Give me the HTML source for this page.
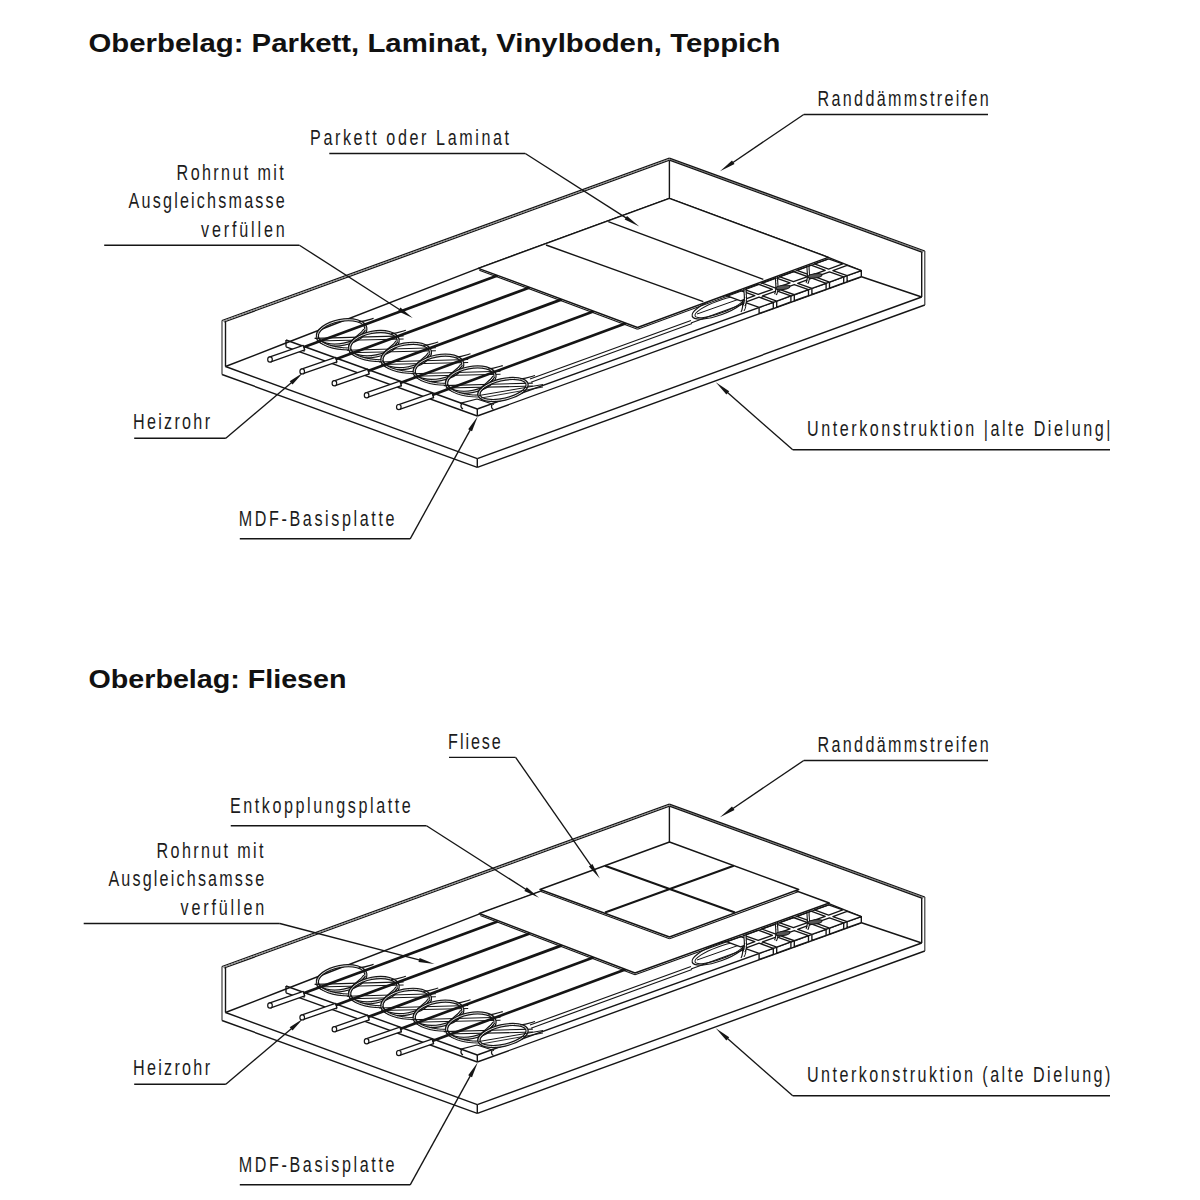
<!DOCTYPE html><html><head><meta charset="utf-8"><style>html,body{margin:0;padding:0;background:#fff;}svg{display:block;}</style></head><body><svg width="1200" height="1200" viewBox="0 0 1200 1200">
<rect width="1200" height="1200" fill="#fff"/>
<g transform="translate(0,0)">
<line x1="225.50" y1="366.50" x2="477.30" y2="458.70" stroke="#151515" stroke-width="1.4"/>
<line x1="222.00" y1="374.50" x2="477.30" y2="467.30" stroke="#151515" stroke-width="1.4"/>
<line x1="477.30" y1="458.70" x2="477.30" y2="467.30" stroke="#151515" stroke-width="1.4"/>
<line x1="477.30" y1="458.70" x2="921.70" y2="297.00" stroke="#151515" stroke-width="1.4"/>
<line x1="477.30" y1="467.30" x2="924.80" y2="305.00" stroke="#151515" stroke-width="1.4"/>
<line x1="222.00" y1="320.50" x2="222.00" y2="374.50" stroke="#333" stroke-width="1.15"/>
<line x1="225.50" y1="322.00" x2="225.50" y2="366.50" stroke="#151515" stroke-width="1.4"/>
<line x1="222.00" y1="320.50" x2="669.40" y2="158.10" stroke="#151515" stroke-width="1.3"/>
<line x1="224.20" y1="322.00" x2="669.40" y2="160.20" stroke="#151515" stroke-width="1.3"/>
<line x1="223.10" y1="321.25" x2="669.40" y2="159.15" stroke="#888" stroke-width="1.0"/>
<line x1="669.40" y1="159.15" x2="923.65" y2="251.65" stroke="#888" stroke-width="1.0"/>
<line x1="669.40" y1="160.40" x2="669.40" y2="198.40" stroke="#151515" stroke-width="1.4"/>
<line x1="669.40" y1="158.10" x2="924.80" y2="251.00" stroke="#151515" stroke-width="1.3"/>
<line x1="669.40" y1="160.20" x2="922.50" y2="252.30" stroke="#151515" stroke-width="1.3"/>
<line x1="924.80" y1="251.00" x2="924.80" y2="305.00" stroke="#333" stroke-width="1.15"/>
<line x1="921.70" y1="252.30" x2="921.70" y2="297.00" stroke="#151515" stroke-width="1.4"/>
<polyline points="225.50,366.50 286.00,343.00 478.30,268.30 669.40,198.40 828.30,257.30 861.30,270.60" stroke="#151515" stroke-width="1.4" fill="none" stroke-linejoin="round"/>
<line x1="860.80" y1="276.50" x2="921.70" y2="297.00" stroke="#151515" stroke-width="1.4"/>
<line x1="286.00" y1="340.00" x2="477.30" y2="409.00" stroke="#151515" stroke-width="1.4"/>
<line x1="286.00" y1="346.80" x2="477.30" y2="416.00" stroke="#151515" stroke-width="1.4"/>
<line x1="286.00" y1="340.00" x2="286.00" y2="346.80" stroke="#151515" stroke-width="1.4"/>
<line x1="477.30" y1="409.00" x2="477.30" y2="416.00" stroke="#151515" stroke-width="1.4"/>
<line x1="477.30" y1="409.00" x2="861.30" y2="270.60" stroke="#151515" stroke-width="1.4"/>
<line x1="477.30" y1="416.00" x2="860.80" y2="277.00" stroke="#151515" stroke-width="1.4"/>
<line x1="861.30" y1="270.60" x2="861.30" y2="277.00" stroke="#151515" stroke-width="1.4"/>
<line x1="304.00" y1="346.49" x2="304.00" y2="351.69" stroke="#151515" stroke-width="1.2"/>
<line x1="336.30" y1="358.14" x2="336.30" y2="363.34" stroke="#151515" stroke-width="1.2"/>
<line x1="368.60" y1="369.79" x2="368.60" y2="374.99" stroke="#151515" stroke-width="1.2"/>
<line x1="400.90" y1="381.44" x2="400.90" y2="386.64" stroke="#151515" stroke-width="1.2"/>
<line x1="433.20" y1="393.10" x2="433.20" y2="398.30" stroke="#151515" stroke-width="1.2"/>
<line x1="691.00" y1="323.00" x2="780.00" y2="290.50" stroke="#151515" stroke-width="1.2"/>
<polygon points="270.79,361.77 304.79,349.97 303.21,345.43 269.21,357.23" stroke="#151515" stroke-width="1.3" fill="#fff" stroke-linejoin="round"/>
<ellipse cx="270.0" cy="359.5" rx="2.3" ry="2.6" fill="#fff" stroke="#151515" stroke-width="1.2"/>
<polygon points="302.99,373.67 336.99,361.87 335.41,357.33 301.41,369.13" stroke="#151515" stroke-width="1.3" fill="#fff" stroke-linejoin="round"/>
<ellipse cx="302.2" cy="371.4" rx="2.3" ry="2.6" fill="#fff" stroke="#151515" stroke-width="1.2"/>
<polygon points="335.19,385.57 369.19,373.77 367.61,369.23 333.61,381.03" stroke="#151515" stroke-width="1.3" fill="#fff" stroke-linejoin="round"/>
<ellipse cx="334.4" cy="383.3" rx="2.3" ry="2.6" fill="#fff" stroke="#151515" stroke-width="1.2"/>
<polygon points="367.39,397.47 401.39,385.67 399.81,381.13 365.81,392.93" stroke="#151515" stroke-width="1.3" fill="#fff" stroke-linejoin="round"/>
<ellipse cx="366.6" cy="395.2" rx="2.3" ry="2.6" fill="#fff" stroke="#151515" stroke-width="1.2"/>
<polygon points="399.59,409.37 433.59,397.57 432.01,393.03 398.01,404.83" stroke="#151515" stroke-width="1.3" fill="#fff" stroke-linejoin="round"/>
<ellipse cx="398.8" cy="407.1" rx="2.3" ry="2.6" fill="#fff" stroke="#151515" stroke-width="1.2"/>
<ellipse cx="341.6" cy="332.4" rx="24.6" ry="12" transform="rotate(-11 341.6 332.4)" fill="none" stroke="#151515" stroke-width="3.3"/>
<ellipse cx="341.6" cy="332.4" rx="24.6" ry="12" transform="rotate(-11 341.6 332.4)" fill="none" stroke="#fff" stroke-width="0.8"/>
<path d="M358.6,321.9 C364.6,321.4 368.6,319.9 373.6,318.4" stroke="#151515" stroke-width="1.1" fill="none" />
<path d="M364.6,329.4 C360.6,336.4 349.6,339.4 349.3,348.9" stroke="#151515" stroke-width="3.0" fill="none" />
<path d="M364.6,329.4 C360.6,336.4 349.6,339.4 349.3,348.9" stroke="#fff" stroke-width="0.9" fill="none" />
<path d="M317.0,337.1 C319.6,344.4 333.6,348.9 349.3,348.9" stroke="#151515" stroke-width="3.0" fill="none" />
<path d="M317.0,337.1 C319.6,344.4 333.6,348.9 349.3,348.9" stroke="#fff" stroke-width="0.9" fill="none" />
<line x1="314.60" y1="338.40" x2="403.60" y2="335.90" stroke="#151515" stroke-width="1.15"/>
<line x1="316.60" y1="340.90" x2="403.60" y2="338.90" stroke="#151515" stroke-width="1.05"/>
<ellipse cx="373.9" cy="344.2" rx="24.6" ry="12" transform="rotate(-11 373.9 344.2)" fill="none" stroke="#151515" stroke-width="3.3"/>
<ellipse cx="373.9" cy="344.2" rx="24.6" ry="12" transform="rotate(-11 373.9 344.2)" fill="none" stroke="#fff" stroke-width="0.8"/>
<path d="M390.9,333.7 C396.9,333.2 400.9,331.7 405.9,330.2" stroke="#151515" stroke-width="1.1" fill="none" />
<path d="M396.9,341.2 C392.9,348.2 381.9,351.2 381.6,360.7" stroke="#151515" stroke-width="3.0" fill="none" />
<path d="M396.9,341.2 C392.9,348.2 381.9,351.2 381.6,360.7" stroke="#fff" stroke-width="0.9" fill="none" />
<path d="M349.3,348.9 C351.9,356.2 365.9,360.7 381.6,360.7" stroke="#151515" stroke-width="3.0" fill="none" />
<path d="M349.3,348.9 C351.9,356.2 365.9,360.7 381.6,360.7" stroke="#fff" stroke-width="0.9" fill="none" />
<line x1="346.90" y1="350.20" x2="435.90" y2="347.70" stroke="#151515" stroke-width="1.15"/>
<line x1="348.90" y1="352.70" x2="435.90" y2="350.70" stroke="#151515" stroke-width="1.05"/>
<ellipse cx="406.2" cy="356.0" rx="24.6" ry="12" transform="rotate(-11 406.2 356.0)" fill="none" stroke="#151515" stroke-width="3.3"/>
<ellipse cx="406.2" cy="356.0" rx="24.6" ry="12" transform="rotate(-11 406.2 356.0)" fill="none" stroke="#fff" stroke-width="0.8"/>
<path d="M423.2,345.5 C429.2,345.0 433.2,343.5 438.2,342.0" stroke="#151515" stroke-width="1.1" fill="none" />
<path d="M429.2,353.0 C425.2,360.0 414.2,363.0 413.9,372.5" stroke="#151515" stroke-width="3.0" fill="none" />
<path d="M429.2,353.0 C425.2,360.0 414.2,363.0 413.9,372.5" stroke="#fff" stroke-width="0.9" fill="none" />
<path d="M381.6,360.7 C384.2,368.0 398.2,372.5 413.9,372.5" stroke="#151515" stroke-width="3.0" fill="none" />
<path d="M381.6,360.7 C384.2,368.0 398.2,372.5 413.9,372.5" stroke="#fff" stroke-width="0.9" fill="none" />
<line x1="379.20" y1="362.00" x2="468.20" y2="359.50" stroke="#151515" stroke-width="1.15"/>
<line x1="381.20" y1="364.50" x2="468.20" y2="362.50" stroke="#151515" stroke-width="1.05"/>
<ellipse cx="438.5" cy="367.8" rx="24.6" ry="12" transform="rotate(-11 438.5 367.8)" fill="none" stroke="#151515" stroke-width="3.3"/>
<ellipse cx="438.5" cy="367.8" rx="24.6" ry="12" transform="rotate(-11 438.5 367.8)" fill="none" stroke="#fff" stroke-width="0.8"/>
<path d="M455.5,357.3 C461.5,356.8 465.5,355.3 470.5,353.8" stroke="#151515" stroke-width="1.1" fill="none" />
<path d="M461.5,364.8 C457.5,371.8 446.5,374.8 446.2,384.3" stroke="#151515" stroke-width="3.0" fill="none" />
<path d="M461.5,364.8 C457.5,371.8 446.5,374.8 446.2,384.3" stroke="#fff" stroke-width="0.9" fill="none" />
<path d="M413.9,372.5 C416.5,379.8 430.5,384.3 446.2,384.3" stroke="#151515" stroke-width="3.0" fill="none" />
<path d="M413.9,372.5 C416.5,379.8 430.5,384.3 446.2,384.3" stroke="#fff" stroke-width="0.9" fill="none" />
<line x1="411.50" y1="373.80" x2="500.50" y2="371.30" stroke="#151515" stroke-width="1.15"/>
<line x1="413.50" y1="376.30" x2="500.50" y2="374.30" stroke="#151515" stroke-width="1.05"/>
<ellipse cx="470.8" cy="379.6" rx="24.6" ry="12" transform="rotate(-11 470.8 379.6)" fill="none" stroke="#151515" stroke-width="3.3"/>
<ellipse cx="470.8" cy="379.6" rx="24.6" ry="12" transform="rotate(-11 470.8 379.6)" fill="none" stroke="#fff" stroke-width="0.8"/>
<path d="M487.8,369.1 C493.8,368.6 497.8,367.1 502.8,365.6" stroke="#151515" stroke-width="1.1" fill="none" />
<path d="M493.8,376.6 C489.8,383.6 478.8,386.6 478.5,396.1" stroke="#151515" stroke-width="3.0" fill="none" />
<path d="M493.8,376.6 C489.8,383.6 478.8,386.6 478.5,396.1" stroke="#fff" stroke-width="0.9" fill="none" />
<path d="M446.2,384.3 C448.8,391.6 462.8,396.1 478.5,396.1" stroke="#151515" stroke-width="3.0" fill="none" />
<path d="M446.2,384.3 C448.8,391.6 462.8,396.1 478.5,396.1" stroke="#fff" stroke-width="0.9" fill="none" />
<line x1="443.80" y1="385.60" x2="532.80" y2="383.10" stroke="#151515" stroke-width="1.15"/>
<line x1="445.80" y1="388.10" x2="532.80" y2="386.10" stroke="#151515" stroke-width="1.05"/>
<ellipse cx="503.0" cy="389.5" rx="24.6" ry="9.8" transform="rotate(-13 503.0 389.5)" fill="none" stroke="#151515" stroke-width="3.3"/>
<ellipse cx="503.0" cy="389.5" rx="24.6" ry="9.8" transform="rotate(-13 503.0 389.5)" fill="none" stroke="#fff" stroke-width="0.8"/>
<path d="M520.0,379.0 C526.0,378.5 530.0,377.0 535.0,375.5" stroke="#151515" stroke-width="1.1" fill="none" />
<line x1="479.00" y1="395.50" x2="543.00" y2="384.50" stroke="#151515" stroke-width="1.0"/>
<line x1="481.00" y1="398.00" x2="543.00" y2="387.00" stroke="#151515" stroke-width="0.9"/>
<polyline points="460.00,403.30 477.00,399.00 494.00,404.50" stroke="#151515" stroke-width="1.2" fill="none" stroke-linejoin="round"/>
<path d="M461.5,403.8 C460.5,406 461,408 463,409" stroke="#151515" stroke-width="1.3" fill="none" />
<path d="M492,404.6 C491,406.5 491.5,408.5 493.5,409.5" stroke="#151515" stroke-width="1.3" fill="none" />
<line x1="303.50" y1="347.30" x2="497.61" y2="275.48" stroke="#151515" stroke-width="2.7"/>
<line x1="335.70" y1="359.20" x2="529.71" y2="287.42" stroke="#151515" stroke-width="2.7"/>
<line x1="367.90" y1="371.10" x2="561.80" y2="299.36" stroke="#151515" stroke-width="2.7"/>
<line x1="400.10" y1="383.00" x2="593.90" y2="311.29" stroke="#151515" stroke-width="2.7"/>
<line x1="432.30" y1="394.90" x2="626.00" y2="323.23" stroke="#151515" stroke-width="2.7"/>
<line x1="530.00" y1="379.00" x2="691.00" y2="320.50" stroke="#151515" stroke-width="1.15"/>
<line x1="531.00" y1="382.20" x2="692.00" y2="323.50" stroke="#151515" stroke-width="1.15"/>
<ellipse cx="719" cy="306.5" rx="28.5" ry="8.5" transform="rotate(-20 719 306.5)" fill="none" stroke="#151515" stroke-width="1.2"/>
<ellipse cx="719.5" cy="307" rx="26" ry="6.2" transform="rotate(-20 719.5 307)" fill="none" stroke="#151515" stroke-width="1"/>
<line x1="697.00" y1="314.00" x2="745.00" y2="297.00" stroke="#151515" stroke-width="1.0"/>
<path d="M743,292 C741,298 745,305 741,312" stroke="#151515" stroke-width="1.2" fill="none" />
<path d="M746,291 C744,298 748,305 744,311" stroke="#151515" stroke-width="1.0" fill="none" />
<polygon points="842.80,263.93 828.60,269.05 814.40,263.93 828.60,258.81" stroke="#151515" stroke-width="1.35" fill="#fff" stroke-linejoin="round"/>
<polygon points="825.20,270.28 811.00,275.39 796.80,270.28 811.00,265.16" stroke="#151515" stroke-width="1.35" fill="#fff" stroke-linejoin="round"/>
<polygon points="807.60,276.62 793.40,281.74 779.20,276.62 793.40,271.50" stroke="#151515" stroke-width="1.35" fill="#fff" stroke-linejoin="round"/>
<polygon points="790.00,282.96 775.80,288.08 761.60,282.96 775.80,277.84" stroke="#151515" stroke-width="1.35" fill="#fff" stroke-linejoin="round"/>
<polygon points="772.40,289.30 758.20,294.42 744.00,289.30 758.20,284.19" stroke="#151515" stroke-width="1.35" fill="#fff" stroke-linejoin="round"/>
<polygon points="754.80,295.65 740.60,300.77 726.40,295.65 740.60,290.53" stroke="#151515" stroke-width="1.35" fill="#fff" stroke-linejoin="round"/>
<polygon points="861.30,270.60 847.10,275.72 847.10,281.72 861.30,276.60" stroke="#151515" stroke-width="1.35" fill="#fff" stroke-linejoin="round"/>
<polygon points="861.30,270.60 847.10,275.72 832.90,270.60 847.10,265.48" stroke="#151515" stroke-width="1.35" fill="#fff" stroke-linejoin="round"/>
<polygon points="843.70,276.94 829.50,282.06 829.50,288.06 843.70,282.94" stroke="#151515" stroke-width="1.35" fill="#fff" stroke-linejoin="round"/>
<polygon points="843.70,276.94 829.50,282.06 815.30,276.94 829.50,271.83" stroke="#151515" stroke-width="1.35" fill="#fff" stroke-linejoin="round"/>
<polygon points="826.10,283.29 811.90,288.40 811.90,294.40 826.10,289.29" stroke="#151515" stroke-width="1.35" fill="#fff" stroke-linejoin="round"/>
<polygon points="826.10,283.29 811.90,288.40 797.70,283.29 811.90,278.17" stroke="#151515" stroke-width="1.35" fill="#fff" stroke-linejoin="round"/>
<polygon points="808.50,289.63 794.30,294.75 794.30,300.75 808.50,295.63" stroke="#151515" stroke-width="1.35" fill="#fff" stroke-linejoin="round"/>
<polygon points="808.50,289.63 794.30,294.75 780.10,289.63 794.30,284.51" stroke="#151515" stroke-width="1.35" fill="#fff" stroke-linejoin="round"/>
<polygon points="790.90,295.97 776.70,301.09 776.70,307.09 790.90,301.97" stroke="#151515" stroke-width="1.35" fill="#fff" stroke-linejoin="round"/>
<polygon points="790.90,295.97 776.70,301.09 762.50,295.97 776.70,290.85" stroke="#151515" stroke-width="1.35" fill="#fff" stroke-linejoin="round"/>
<polygon points="773.30,302.32 759.10,307.43 759.10,313.43 773.30,308.32" stroke="#151515" stroke-width="1.35" fill="#fff" stroke-linejoin="round"/>
<polygon points="773.30,302.32 759.10,307.43 744.90,302.32 759.10,297.20" stroke="#151515" stroke-width="1.35" fill="#fff" stroke-linejoin="round"/>
<path d="M745.5,282.9 C743.5,290.9 747.5,298.9 744.0,305.9" stroke="#151515" stroke-width="3.2" fill="none" />
<path d="M745.5,282.9 C743.5,290.9 747.5,298.9 744.0,305.9" stroke="#fff" stroke-width="1.0" fill="none" />
<path d="M777.0,271.6 C775.0,279.6 779.0,287.6 775.5,294.6" stroke="#151515" stroke-width="3.2" fill="none" />
<path d="M777.0,271.6 C775.0,279.6 779.0,287.6 775.5,294.6" stroke="#fff" stroke-width="1.0" fill="none" />
<path d="M808.5,260.2 C806.5,268.2 810.5,276.2 807.0,283.2" stroke="#151515" stroke-width="3.2" fill="none" />
<path d="M808.5,260.2 C806.5,268.2 810.5,276.2 807.0,283.2" stroke="#fff" stroke-width="1.0" fill="none" />
<ellipse cx="783.0" cy="287.4" rx="7" ry="2.2" transform="rotate(-8 783.0 287.4)" fill="#555" stroke="#151515" stroke-width="1.1"/>
<ellipse cx="815.0" cy="275.9" rx="7" ry="2.2" transform="rotate(-8 815.0 275.9)" fill="#555" stroke="#151515" stroke-width="1.1"/>
<polygon points="478.30,268.30 637.50,327.50 828.30,257.30 669.40,198.40" stroke="#151515" stroke-width="1.4" fill="#fff" stroke-linejoin="round"/>
<line x1="479.30" y1="270.20" x2="637.50" y2="329.30" stroke="#151515" stroke-width="1.1"/>
<line x1="637.50" y1="329.30" x2="828.30" y2="259.10" stroke="#151515" stroke-width="1.1"/>
<line x1="546.00" y1="245.00" x2="703.30" y2="301.70" stroke="#151515" stroke-width="1.4"/>
<line x1="608.30" y1="221.70" x2="763.30" y2="279.30" stroke="#151515" stroke-width="1.4"/>
</g>
<g transform="translate(0,646)">
<line x1="225.50" y1="366.50" x2="477.30" y2="458.70" stroke="#151515" stroke-width="1.4"/>
<line x1="222.00" y1="374.50" x2="477.30" y2="467.30" stroke="#151515" stroke-width="1.4"/>
<line x1="477.30" y1="458.70" x2="477.30" y2="467.30" stroke="#151515" stroke-width="1.4"/>
<line x1="477.30" y1="458.70" x2="921.70" y2="297.00" stroke="#151515" stroke-width="1.4"/>
<line x1="477.30" y1="467.30" x2="924.80" y2="305.00" stroke="#151515" stroke-width="1.4"/>
<line x1="222.00" y1="320.50" x2="222.00" y2="374.50" stroke="#333" stroke-width="1.15"/>
<line x1="225.50" y1="322.00" x2="225.50" y2="366.50" stroke="#151515" stroke-width="1.4"/>
<line x1="222.00" y1="320.50" x2="669.40" y2="158.10" stroke="#151515" stroke-width="1.3"/>
<line x1="224.20" y1="322.00" x2="669.40" y2="160.20" stroke="#151515" stroke-width="1.3"/>
<line x1="223.10" y1="321.25" x2="669.40" y2="159.15" stroke="#888" stroke-width="1.0"/>
<line x1="669.40" y1="159.15" x2="923.65" y2="251.65" stroke="#888" stroke-width="1.0"/>
<line x1="669.40" y1="160.40" x2="669.40" y2="198.40" stroke="#151515" stroke-width="1.4"/>
<line x1="669.40" y1="158.10" x2="924.80" y2="251.00" stroke="#151515" stroke-width="1.3"/>
<line x1="669.40" y1="160.20" x2="922.50" y2="252.30" stroke="#151515" stroke-width="1.3"/>
<line x1="924.80" y1="251.00" x2="924.80" y2="305.00" stroke="#333" stroke-width="1.15"/>
<line x1="921.70" y1="252.30" x2="921.70" y2="297.00" stroke="#151515" stroke-width="1.4"/>
<polyline points="225.50,366.50 286.00,343.00 478.30,268.30 669.40,198.40 828.30,257.30 861.30,270.60" stroke="#151515" stroke-width="1.4" fill="none" stroke-linejoin="round"/>
<line x1="860.80" y1="276.50" x2="921.70" y2="297.00" stroke="#151515" stroke-width="1.4"/>
<line x1="286.00" y1="340.00" x2="477.30" y2="409.00" stroke="#151515" stroke-width="1.4"/>
<line x1="286.00" y1="346.80" x2="477.30" y2="416.00" stroke="#151515" stroke-width="1.4"/>
<line x1="286.00" y1="340.00" x2="286.00" y2="346.80" stroke="#151515" stroke-width="1.4"/>
<line x1="477.30" y1="409.00" x2="477.30" y2="416.00" stroke="#151515" stroke-width="1.4"/>
<line x1="477.30" y1="409.00" x2="861.30" y2="270.60" stroke="#151515" stroke-width="1.4"/>
<line x1="477.30" y1="416.00" x2="860.80" y2="277.00" stroke="#151515" stroke-width="1.4"/>
<line x1="861.30" y1="270.60" x2="861.30" y2="277.00" stroke="#151515" stroke-width="1.4"/>
<line x1="304.00" y1="346.49" x2="304.00" y2="351.69" stroke="#151515" stroke-width="1.2"/>
<line x1="336.30" y1="358.14" x2="336.30" y2="363.34" stroke="#151515" stroke-width="1.2"/>
<line x1="368.60" y1="369.79" x2="368.60" y2="374.99" stroke="#151515" stroke-width="1.2"/>
<line x1="400.90" y1="381.44" x2="400.90" y2="386.64" stroke="#151515" stroke-width="1.2"/>
<line x1="433.20" y1="393.10" x2="433.20" y2="398.30" stroke="#151515" stroke-width="1.2"/>
<line x1="691.00" y1="323.00" x2="780.00" y2="290.50" stroke="#151515" stroke-width="1.2"/>
<polygon points="270.79,361.77 304.79,349.97 303.21,345.43 269.21,357.23" stroke="#151515" stroke-width="1.3" fill="#fff" stroke-linejoin="round"/>
<ellipse cx="270.0" cy="359.5" rx="2.3" ry="2.6" fill="#fff" stroke="#151515" stroke-width="1.2"/>
<polygon points="302.99,373.67 336.99,361.87 335.41,357.33 301.41,369.13" stroke="#151515" stroke-width="1.3" fill="#fff" stroke-linejoin="round"/>
<ellipse cx="302.2" cy="371.4" rx="2.3" ry="2.6" fill="#fff" stroke="#151515" stroke-width="1.2"/>
<polygon points="335.19,385.57 369.19,373.77 367.61,369.23 333.61,381.03" stroke="#151515" stroke-width="1.3" fill="#fff" stroke-linejoin="round"/>
<ellipse cx="334.4" cy="383.3" rx="2.3" ry="2.6" fill="#fff" stroke="#151515" stroke-width="1.2"/>
<polygon points="367.39,397.47 401.39,385.67 399.81,381.13 365.81,392.93" stroke="#151515" stroke-width="1.3" fill="#fff" stroke-linejoin="round"/>
<ellipse cx="366.6" cy="395.2" rx="2.3" ry="2.6" fill="#fff" stroke="#151515" stroke-width="1.2"/>
<polygon points="399.59,409.37 433.59,397.57 432.01,393.03 398.01,404.83" stroke="#151515" stroke-width="1.3" fill="#fff" stroke-linejoin="round"/>
<ellipse cx="398.8" cy="407.1" rx="2.3" ry="2.6" fill="#fff" stroke="#151515" stroke-width="1.2"/>
<ellipse cx="341.6" cy="332.4" rx="24.6" ry="12" transform="rotate(-11 341.6 332.4)" fill="none" stroke="#151515" stroke-width="3.3"/>
<ellipse cx="341.6" cy="332.4" rx="24.6" ry="12" transform="rotate(-11 341.6 332.4)" fill="none" stroke="#fff" stroke-width="0.8"/>
<path d="M358.6,321.9 C364.6,321.4 368.6,319.9 373.6,318.4" stroke="#151515" stroke-width="1.1" fill="none" />
<path d="M364.6,329.4 C360.6,336.4 349.6,339.4 349.3,348.9" stroke="#151515" stroke-width="3.0" fill="none" />
<path d="M364.6,329.4 C360.6,336.4 349.6,339.4 349.3,348.9" stroke="#fff" stroke-width="0.9" fill="none" />
<path d="M317.0,337.1 C319.6,344.4 333.6,348.9 349.3,348.9" stroke="#151515" stroke-width="3.0" fill="none" />
<path d="M317.0,337.1 C319.6,344.4 333.6,348.9 349.3,348.9" stroke="#fff" stroke-width="0.9" fill="none" />
<line x1="314.60" y1="338.40" x2="403.60" y2="335.90" stroke="#151515" stroke-width="1.15"/>
<line x1="316.60" y1="340.90" x2="403.60" y2="338.90" stroke="#151515" stroke-width="1.05"/>
<ellipse cx="373.9" cy="344.2" rx="24.6" ry="12" transform="rotate(-11 373.9 344.2)" fill="none" stroke="#151515" stroke-width="3.3"/>
<ellipse cx="373.9" cy="344.2" rx="24.6" ry="12" transform="rotate(-11 373.9 344.2)" fill="none" stroke="#fff" stroke-width="0.8"/>
<path d="M390.9,333.7 C396.9,333.2 400.9,331.7 405.9,330.2" stroke="#151515" stroke-width="1.1" fill="none" />
<path d="M396.9,341.2 C392.9,348.2 381.9,351.2 381.6,360.7" stroke="#151515" stroke-width="3.0" fill="none" />
<path d="M396.9,341.2 C392.9,348.2 381.9,351.2 381.6,360.7" stroke="#fff" stroke-width="0.9" fill="none" />
<path d="M349.3,348.9 C351.9,356.2 365.9,360.7 381.6,360.7" stroke="#151515" stroke-width="3.0" fill="none" />
<path d="M349.3,348.9 C351.9,356.2 365.9,360.7 381.6,360.7" stroke="#fff" stroke-width="0.9" fill="none" />
<line x1="346.90" y1="350.20" x2="435.90" y2="347.70" stroke="#151515" stroke-width="1.15"/>
<line x1="348.90" y1="352.70" x2="435.90" y2="350.70" stroke="#151515" stroke-width="1.05"/>
<ellipse cx="406.2" cy="356.0" rx="24.6" ry="12" transform="rotate(-11 406.2 356.0)" fill="none" stroke="#151515" stroke-width="3.3"/>
<ellipse cx="406.2" cy="356.0" rx="24.6" ry="12" transform="rotate(-11 406.2 356.0)" fill="none" stroke="#fff" stroke-width="0.8"/>
<path d="M423.2,345.5 C429.2,345.0 433.2,343.5 438.2,342.0" stroke="#151515" stroke-width="1.1" fill="none" />
<path d="M429.2,353.0 C425.2,360.0 414.2,363.0 413.9,372.5" stroke="#151515" stroke-width="3.0" fill="none" />
<path d="M429.2,353.0 C425.2,360.0 414.2,363.0 413.9,372.5" stroke="#fff" stroke-width="0.9" fill="none" />
<path d="M381.6,360.7 C384.2,368.0 398.2,372.5 413.9,372.5" stroke="#151515" stroke-width="3.0" fill="none" />
<path d="M381.6,360.7 C384.2,368.0 398.2,372.5 413.9,372.5" stroke="#fff" stroke-width="0.9" fill="none" />
<line x1="379.20" y1="362.00" x2="468.20" y2="359.50" stroke="#151515" stroke-width="1.15"/>
<line x1="381.20" y1="364.50" x2="468.20" y2="362.50" stroke="#151515" stroke-width="1.05"/>
<ellipse cx="438.5" cy="367.8" rx="24.6" ry="12" transform="rotate(-11 438.5 367.8)" fill="none" stroke="#151515" stroke-width="3.3"/>
<ellipse cx="438.5" cy="367.8" rx="24.6" ry="12" transform="rotate(-11 438.5 367.8)" fill="none" stroke="#fff" stroke-width="0.8"/>
<path d="M455.5,357.3 C461.5,356.8 465.5,355.3 470.5,353.8" stroke="#151515" stroke-width="1.1" fill="none" />
<path d="M461.5,364.8 C457.5,371.8 446.5,374.8 446.2,384.3" stroke="#151515" stroke-width="3.0" fill="none" />
<path d="M461.5,364.8 C457.5,371.8 446.5,374.8 446.2,384.3" stroke="#fff" stroke-width="0.9" fill="none" />
<path d="M413.9,372.5 C416.5,379.8 430.5,384.3 446.2,384.3" stroke="#151515" stroke-width="3.0" fill="none" />
<path d="M413.9,372.5 C416.5,379.8 430.5,384.3 446.2,384.3" stroke="#fff" stroke-width="0.9" fill="none" />
<line x1="411.50" y1="373.80" x2="500.50" y2="371.30" stroke="#151515" stroke-width="1.15"/>
<line x1="413.50" y1="376.30" x2="500.50" y2="374.30" stroke="#151515" stroke-width="1.05"/>
<ellipse cx="470.8" cy="379.6" rx="24.6" ry="12" transform="rotate(-11 470.8 379.6)" fill="none" stroke="#151515" stroke-width="3.3"/>
<ellipse cx="470.8" cy="379.6" rx="24.6" ry="12" transform="rotate(-11 470.8 379.6)" fill="none" stroke="#fff" stroke-width="0.8"/>
<path d="M487.8,369.1 C493.8,368.6 497.8,367.1 502.8,365.6" stroke="#151515" stroke-width="1.1" fill="none" />
<path d="M493.8,376.6 C489.8,383.6 478.8,386.6 478.5,396.1" stroke="#151515" stroke-width="3.0" fill="none" />
<path d="M493.8,376.6 C489.8,383.6 478.8,386.6 478.5,396.1" stroke="#fff" stroke-width="0.9" fill="none" />
<path d="M446.2,384.3 C448.8,391.6 462.8,396.1 478.5,396.1" stroke="#151515" stroke-width="3.0" fill="none" />
<path d="M446.2,384.3 C448.8,391.6 462.8,396.1 478.5,396.1" stroke="#fff" stroke-width="0.9" fill="none" />
<line x1="443.80" y1="385.60" x2="532.80" y2="383.10" stroke="#151515" stroke-width="1.15"/>
<line x1="445.80" y1="388.10" x2="532.80" y2="386.10" stroke="#151515" stroke-width="1.05"/>
<ellipse cx="503.0" cy="389.5" rx="24.6" ry="9.8" transform="rotate(-13 503.0 389.5)" fill="none" stroke="#151515" stroke-width="3.3"/>
<ellipse cx="503.0" cy="389.5" rx="24.6" ry="9.8" transform="rotate(-13 503.0 389.5)" fill="none" stroke="#fff" stroke-width="0.8"/>
<path d="M520.0,379.0 C526.0,378.5 530.0,377.0 535.0,375.5" stroke="#151515" stroke-width="1.1" fill="none" />
<line x1="479.00" y1="395.50" x2="543.00" y2="384.50" stroke="#151515" stroke-width="1.0"/>
<line x1="481.00" y1="398.00" x2="543.00" y2="387.00" stroke="#151515" stroke-width="0.9"/>
<polyline points="460.00,403.30 477.00,399.00 494.00,404.50" stroke="#151515" stroke-width="1.2" fill="none" stroke-linejoin="round"/>
<path d="M461.5,403.8 C460.5,406 461,408 463,409" stroke="#151515" stroke-width="1.3" fill="none" />
<path d="M492,404.6 C491,406.5 491.5,408.5 493.5,409.5" stroke="#151515" stroke-width="1.3" fill="none" />
<line x1="303.50" y1="347.30" x2="497.61" y2="275.48" stroke="#151515" stroke-width="2.7"/>
<line x1="335.70" y1="359.20" x2="529.71" y2="287.42" stroke="#151515" stroke-width="2.7"/>
<line x1="367.90" y1="371.10" x2="561.80" y2="299.36" stroke="#151515" stroke-width="2.7"/>
<line x1="400.10" y1="383.00" x2="593.90" y2="311.29" stroke="#151515" stroke-width="2.7"/>
<line x1="432.30" y1="394.90" x2="626.00" y2="323.23" stroke="#151515" stroke-width="2.7"/>
<line x1="530.00" y1="379.00" x2="691.00" y2="320.50" stroke="#151515" stroke-width="1.15"/>
<line x1="531.00" y1="382.20" x2="692.00" y2="323.50" stroke="#151515" stroke-width="1.15"/>
<ellipse cx="719" cy="306.5" rx="28.5" ry="8.5" transform="rotate(-20 719 306.5)" fill="none" stroke="#151515" stroke-width="1.2"/>
<ellipse cx="719.5" cy="307" rx="26" ry="6.2" transform="rotate(-20 719.5 307)" fill="none" stroke="#151515" stroke-width="1"/>
<line x1="697.00" y1="314.00" x2="745.00" y2="297.00" stroke="#151515" stroke-width="1.0"/>
<path d="M743,292 C741,298 745,305 741,312" stroke="#151515" stroke-width="1.2" fill="none" />
<path d="M746,291 C744,298 748,305 744,311" stroke="#151515" stroke-width="1.0" fill="none" />
<polygon points="842.80,263.93 828.60,269.05 814.40,263.93 828.60,258.81" stroke="#151515" stroke-width="1.35" fill="#fff" stroke-linejoin="round"/>
<polygon points="825.20,270.28 811.00,275.39 796.80,270.28 811.00,265.16" stroke="#151515" stroke-width="1.35" fill="#fff" stroke-linejoin="round"/>
<polygon points="807.60,276.62 793.40,281.74 779.20,276.62 793.40,271.50" stroke="#151515" stroke-width="1.35" fill="#fff" stroke-linejoin="round"/>
<polygon points="790.00,282.96 775.80,288.08 761.60,282.96 775.80,277.84" stroke="#151515" stroke-width="1.35" fill="#fff" stroke-linejoin="round"/>
<polygon points="772.40,289.30 758.20,294.42 744.00,289.30 758.20,284.19" stroke="#151515" stroke-width="1.35" fill="#fff" stroke-linejoin="round"/>
<polygon points="754.80,295.65 740.60,300.77 726.40,295.65 740.60,290.53" stroke="#151515" stroke-width="1.35" fill="#fff" stroke-linejoin="round"/>
<polygon points="861.30,270.60 847.10,275.72 847.10,281.72 861.30,276.60" stroke="#151515" stroke-width="1.35" fill="#fff" stroke-linejoin="round"/>
<polygon points="861.30,270.60 847.10,275.72 832.90,270.60 847.10,265.48" stroke="#151515" stroke-width="1.35" fill="#fff" stroke-linejoin="round"/>
<polygon points="843.70,276.94 829.50,282.06 829.50,288.06 843.70,282.94" stroke="#151515" stroke-width="1.35" fill="#fff" stroke-linejoin="round"/>
<polygon points="843.70,276.94 829.50,282.06 815.30,276.94 829.50,271.83" stroke="#151515" stroke-width="1.35" fill="#fff" stroke-linejoin="round"/>
<polygon points="826.10,283.29 811.90,288.40 811.90,294.40 826.10,289.29" stroke="#151515" stroke-width="1.35" fill="#fff" stroke-linejoin="round"/>
<polygon points="826.10,283.29 811.90,288.40 797.70,283.29 811.90,278.17" stroke="#151515" stroke-width="1.35" fill="#fff" stroke-linejoin="round"/>
<polygon points="808.50,289.63 794.30,294.75 794.30,300.75 808.50,295.63" stroke="#151515" stroke-width="1.35" fill="#fff" stroke-linejoin="round"/>
<polygon points="808.50,289.63 794.30,294.75 780.10,289.63 794.30,284.51" stroke="#151515" stroke-width="1.35" fill="#fff" stroke-linejoin="round"/>
<polygon points="790.90,295.97 776.70,301.09 776.70,307.09 790.90,301.97" stroke="#151515" stroke-width="1.35" fill="#fff" stroke-linejoin="round"/>
<polygon points="790.90,295.97 776.70,301.09 762.50,295.97 776.70,290.85" stroke="#151515" stroke-width="1.35" fill="#fff" stroke-linejoin="round"/>
<polygon points="773.30,302.32 759.10,307.43 759.10,313.43 773.30,308.32" stroke="#151515" stroke-width="1.35" fill="#fff" stroke-linejoin="round"/>
<polygon points="773.30,302.32 759.10,307.43 744.90,302.32 759.10,297.20" stroke="#151515" stroke-width="1.35" fill="#fff" stroke-linejoin="round"/>
<path d="M745.5,282.9 C743.5,290.9 747.5,298.9 744.0,305.9" stroke="#151515" stroke-width="3.2" fill="none" />
<path d="M745.5,282.9 C743.5,290.9 747.5,298.9 744.0,305.9" stroke="#fff" stroke-width="1.0" fill="none" />
<path d="M777.0,271.6 C775.0,279.6 779.0,287.6 775.5,294.6" stroke="#151515" stroke-width="3.2" fill="none" />
<path d="M777.0,271.6 C775.0,279.6 779.0,287.6 775.5,294.6" stroke="#fff" stroke-width="1.0" fill="none" />
<path d="M808.5,260.2 C806.5,268.2 810.5,276.2 807.0,283.2" stroke="#151515" stroke-width="3.2" fill="none" />
<path d="M808.5,260.2 C806.5,268.2 810.5,276.2 807.0,283.2" stroke="#fff" stroke-width="1.0" fill="none" />
<ellipse cx="783.0" cy="287.4" rx="7" ry="2.2" transform="rotate(-8 783.0 287.4)" fill="#555" stroke="#151515" stroke-width="1.1"/>
<ellipse cx="815.0" cy="275.9" rx="7" ry="2.2" transform="rotate(-8 815.0 275.9)" fill="#555" stroke="#151515" stroke-width="1.1"/>
<polygon points="479.30,267.50 635.00,327.00 829.30,257.00 669.40,198.40" stroke="#151515" stroke-width="1.4" fill="#fff" stroke-linejoin="round"/>
<line x1="480.30" y1="269.40" x2="635.00" y2="328.80" stroke="#151515" stroke-width="1.1"/>
<line x1="635.00" y1="328.80" x2="829.30" y2="258.80" stroke="#151515" stroke-width="1.1"/>
<polygon points="540.00,243.50 669.50,291.00 798.75,243.50 669.50,196.00" stroke="#151515" stroke-width="1.4" fill="#fff" stroke-linejoin="round"/>
<line x1="541.00" y1="245.40" x2="669.50" y2="292.80" stroke="#151515" stroke-width="1.1"/>
<line x1="669.50" y1="292.80" x2="798.75" y2="245.40" stroke="#151515" stroke-width="1.1"/>
<line x1="605.00" y1="219.75" x2="735.00" y2="266.50" stroke="#151515" stroke-width="2.0"/>
<line x1="605.00" y1="266.50" x2="733.75" y2="219.75" stroke="#151515" stroke-width="2.0"/>
</g>
<text x="88.5" y="51.7" font-family="Liberation Sans" font-size="25.8" font-weight="bold" fill="#111" textLength="692.0" lengthAdjust="spacingAndGlyphs">Oberbelag: Parkett, Laminat, Vinylboden, Teppich</text>
<text x="88.5" y="688.0" font-family="Liberation Sans" font-size="25.8" font-weight="bold" fill="#111" textLength="258.0" lengthAdjust="spacingAndGlyphs">Oberbelag: Fliesen</text>
<text transform="scale(0.75,1)" x="1090.00" y="105.75" font-family="Liberation Sans" font-size="21.5" fill="#1c1c1c" textLength="228.27" lengthAdjust="spacing">Randdämmstreifen</text>
<line x1="803.75" y1="114.50" x2="988.00" y2="114.50" stroke="#151515" stroke-width="1.4"/>
<line x1="803.75" y1="114.50" x2="730.76" y2="163.96" stroke="#151515" stroke-width="1.35"/>
<polygon points="720.0,171.2 732.0,160.5 734.5,164.1" fill="#151515"/>
<text transform="scale(0.75,1)" x="413.47" y="144.75" font-family="Liberation Sans" font-size="21.5" fill="#1c1c1c" textLength="265.20" lengthAdjust="spacing">Parkett oder Laminat</text>
<line x1="329.30" y1="153.50" x2="525.30" y2="153.50" stroke="#151515" stroke-width="1.4"/>
<line x1="525.30" y1="153.50" x2="628.35" y2="219.40" stroke="#151515" stroke-width="1.35"/>
<polygon points="639.3,226.4 624.7,219.6 627.0,216.0" fill="#151515"/>
<text transform="scale(0.75,1)" x="235.47" y="179.75" font-family="Liberation Sans" font-size="21.5" fill="#1c1c1c" textLength="142.93" lengthAdjust="spacing">Rohrnut mit</text>
<text transform="scale(0.75,1)" x="171.47" y="208.20" font-family="Liberation Sans" font-size="21.5" fill="#1c1c1c" textLength="208.27" lengthAdjust="spacing">Ausgleichsmasse</text>
<text transform="scale(0.75,1)" x="268.00" y="236.60" font-family="Liberation Sans" font-size="21.5" fill="#1c1c1c" textLength="111.73" lengthAdjust="spacing">verfüllen</text>
<line x1="104.20" y1="245.20" x2="299.40" y2="245.20" stroke="#151515" stroke-width="1.4"/>
<line x1="299.40" y1="245.20" x2="401.76" y2="310.97" stroke="#151515" stroke-width="1.35"/>
<polygon points="412.7,318.0 398.1,311.2 400.4,307.5" fill="#151515"/>
<text transform="scale(0.75,1)" x="177.33" y="429.20" font-family="Liberation Sans" font-size="21.5" fill="#1c1c1c" textLength="102.67" lengthAdjust="spacing">Heizrohr</text>
<line x1="134.20" y1="438.30" x2="225.80" y2="438.30" stroke="#151515" stroke-width="1.4"/>
<line x1="225.80" y1="438.30" x2="293.39" y2="380.91" stroke="#151515" stroke-width="1.35"/>
<polygon points="303.3,372.5 292.5,384.5 289.7,381.2" fill="#151515"/>
<text transform="scale(0.75,1)" x="1076.00" y="436.10" font-family="Liberation Sans" font-size="21.5" fill="#1c1c1c" textLength="404.53" lengthAdjust="spacing">Unterkonstruktion |alte Dielung|</text>
<line x1="792.75" y1="449.80" x2="1110.00" y2="449.80" stroke="#151515" stroke-width="1.4"/>
<line x1="792.75" y1="449.80" x2="725.52" y2="390.82" stroke="#151515" stroke-width="1.35"/>
<polygon points="715.8,382.2 729.2,391.2 726.4,394.4" fill="#151515"/>
<text transform="scale(0.75,1)" x="318.27" y="526.00" font-family="Liberation Sans" font-size="21.5" fill="#1c1c1c" textLength="207.73" lengthAdjust="spacing">MDF-Basisplatte</text>
<line x1="239.80" y1="538.80" x2="410.20" y2="538.80" stroke="#151515" stroke-width="1.4"/>
<line x1="410.20" y1="538.80" x2="471.52" y2="427.68" stroke="#151515" stroke-width="1.35"/>
<polygon points="477.8,416.3 472.0,431.3 468.2,429.3" fill="#151515"/>
<text transform="scale(0.75,1)" x="1090.00" y="751.75" font-family="Liberation Sans" font-size="21.5" fill="#1c1c1c" textLength="228.27" lengthAdjust="spacing">Randdämmstreifen</text>
<line x1="803.75" y1="760.50" x2="988.00" y2="760.50" stroke="#151515" stroke-width="1.4"/>
<line x1="803.75" y1="760.50" x2="730.76" y2="809.96" stroke="#151515" stroke-width="1.35"/>
<polygon points="720.0,817.2 732.0,806.5 734.5,810.1" fill="#151515"/>
<text transform="scale(0.75,1)" x="597.47" y="749.25" font-family="Liberation Sans" font-size="21.5" fill="#1c1c1c" textLength="70.27" lengthAdjust="spacing">Fliese</text>
<line x1="449.00" y1="757.35" x2="515.60" y2="757.35" stroke="#151515" stroke-width="1.4"/>
<line x1="515.60" y1="757.35" x2="592.38" y2="867.73" stroke="#151515" stroke-width="1.35"/>
<polygon points="599.8,878.4 588.9,866.5 592.4,864.0" fill="#151515"/>
<text transform="scale(0.75,1)" x="306.53" y="813.20" font-family="Liberation Sans" font-size="21.5" fill="#1c1c1c" textLength="241.20" lengthAdjust="spacing">Entkopplungsplatte</text>
<line x1="230.75" y1="825.75" x2="426.50" y2="825.75" stroke="#151515" stroke-width="1.4"/>
<line x1="426.50" y1="825.75" x2="528.05" y2="890.74" stroke="#151515" stroke-width="1.35"/>
<polygon points="539.0,897.8 524.4,890.9 526.7,887.3" fill="#151515"/>
<text transform="scale(0.75,1)" x="208.80" y="858.40" font-family="Liberation Sans" font-size="21.5" fill="#1c1c1c" textLength="142.40" lengthAdjust="spacing">Rohrnut mit</text>
<text transform="scale(0.75,1)" x="144.53" y="886.50" font-family="Liberation Sans" font-size="21.5" fill="#1c1c1c" textLength="207.87" lengthAdjust="spacing">Ausgleichsamsse</text>
<text transform="scale(0.75,1)" x="240.67" y="914.70" font-family="Liberation Sans" font-size="21.5" fill="#1c1c1c" textLength="111.73" lengthAdjust="spacing">verfüllen</text>
<line x1="83.70" y1="923.50" x2="279.80" y2="923.50" stroke="#151515" stroke-width="1.4"/>
<line x1="279.80" y1="923.50" x2="421.92" y2="960.71" stroke="#151515" stroke-width="1.35"/>
<polygon points="434.5,964.0 418.5,962.0 419.6,957.9" fill="#151515"/>
<text transform="scale(0.75,1)" x="177.33" y="1075.20" font-family="Liberation Sans" font-size="21.5" fill="#1c1c1c" textLength="102.67" lengthAdjust="spacing">Heizrohr</text>
<line x1="134.20" y1="1084.30" x2="225.80" y2="1084.30" stroke="#151515" stroke-width="1.4"/>
<line x1="225.80" y1="1084.30" x2="293.39" y2="1026.91" stroke="#151515" stroke-width="1.35"/>
<polygon points="303.3,1018.5 292.5,1030.5 289.7,1027.2" fill="#151515"/>
<text transform="scale(0.75,1)" x="1076.00" y="1082.10" font-family="Liberation Sans" font-size="21.5" fill="#1c1c1c" textLength="404.53" lengthAdjust="spacing">Unterkonstruktion (alte Dielung)</text>
<line x1="792.75" y1="1095.80" x2="1110.00" y2="1095.80" stroke="#151515" stroke-width="1.4"/>
<line x1="792.75" y1="1095.80" x2="725.52" y2="1036.82" stroke="#151515" stroke-width="1.35"/>
<polygon points="715.8,1028.2 729.2,1037.2 726.4,1040.4" fill="#151515"/>
<text transform="scale(0.75,1)" x="318.27" y="1172.00" font-family="Liberation Sans" font-size="21.5" fill="#1c1c1c" textLength="207.73" lengthAdjust="spacing">MDF-Basisplatte</text>
<line x1="239.80" y1="1184.80" x2="410.20" y2="1184.80" stroke="#151515" stroke-width="1.4"/>
<line x1="410.20" y1="1184.80" x2="471.52" y2="1073.68" stroke="#151515" stroke-width="1.35"/>
<polygon points="477.8,1062.3 472.0,1077.3 468.2,1075.3" fill="#151515"/>
</svg></body></html>
